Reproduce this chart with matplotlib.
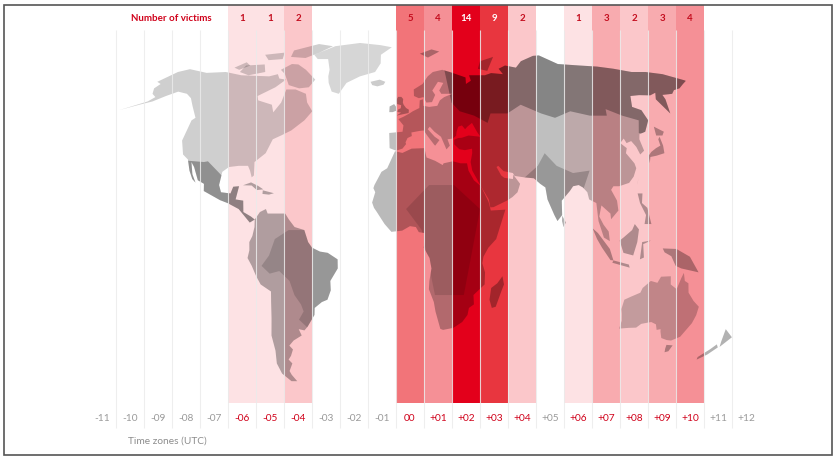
import numpy as np
import matplotlib.pyplot as plt
from matplotlib.colors import LinearSegmentedColormap
from matplotlib.patches import Polygon, Rectangle
import matplotlib.transforms as mtransforms

plt.rcParams['font.family'] = ['Lato', 'DejaVu Sans']

# data
zones = list(range(-11, 13))
victim_zones = [-6, -5, -4, 0, 1, 2, 3, 4, 6, 7, 8, 9, 10]
victims = [1, 1, 2, 5, 4, 14, 9, 2, 1, 3, 2, 3, 4]
title_text = 'Number of victims'
axis_title = 'Time zones (UTC)'

# rough land outlines (lon, lat)
north_america = [(-168, 65.5), (-162, 70), (-156, 71.3), (-141, 69.6), (-128, 70), (-115, 68.5), (-95, 68),
                 (-90, 69), (-87, 67), (-82, 66.5), (-86, 63), (-94, 59), (-92, 57), (-82, 55), (-79, 51.5),
                 (-77, 56), (-78, 62), (-72, 62), (-64, 60), (-61, 56), (-56, 52), (-59, 48), (-65, 44),
                 (-70, 42), (-74, 40.5), (-76, 35), (-81, 31.5), (-80, 26), (-81, 25.2), (-82.5, 28), (-84, 30),
                 (-89, 30), (-94, 29.5), (-97, 27.5), (-97.5, 22), (-96, 19), (-91, 18.5), (-90, 21.3),
                 (-87, 21.5), (-88, 16), (-84, 15.5), (-83.5, 11), (-79.5, 9.5), (-77.5, 8.5), (-80, 7.5),
                 (-86, 12), (-92, 14.5), (-96, 15.7), (-105, 19.5), (-105.5, 22.5), (-109, 24), (-112.5, 29.5),
                 (-114.7, 31.5), (-112.5, 26.5), (-110, 23), (-112, 24.5), (-114.5, 28), (-117, 32.5),
                 (-120.5, 34.5), (-124, 40), (-124.5, 48), (-123, 49), (-130, 54.5), (-135, 58), (-140, 60),
                 (-147, 61), (-152, 59), (-157, 56.5), (-163, 55), (-172, 52.5), (-160, 56.5), (-158, 58.5),
                 (-162, 60), (-165, 62.5), (-164, 64.5)]
mexico_region = [(-125, 32.5), (-108, 31.5), (-106, 31.8), (-97, 26), (-88, 26), (-75, 5), (-125, 5)]
arctic_islands = [
    [(-80, 73.5), (-72, 71), (-62, 66.5), (-64, 63), (-70, 62.5), (-78, 64), (-85, 69), (-90, 71), (-85, 73.7)],
    [(-92, 80), (-75, 83), (-62, 82), (-70, 79), (-78, 76.5), (-90, 77)],
    [(-118, 73), (-105, 73.5), (-100, 70), (-110, 68.5), (-118, 70)],
    [(-125, 72), (-120, 74.5), (-115, 73), (-120, 71)],
    [(-112, 78), (-98, 79), (-95, 76), (-105, 75.5)],
]
greenland = [(-73, 78), (-60, 82), (-40, 83.5), (-22, 82.5), (-12, 81.5), (-20, 78), (-19, 74), (-22, 70),
             (-32, 68), (-40, 65), (-43, 60), (-48, 61), (-52, 65), (-54, 68), (-55, 71), (-60, 76), (-68, 76)]
iceland = [(-24, 65.5), (-18, 66.5), (-14, 65.5), (-15, 64.2), (-19, 63.4), (-22.5, 64)]
caribbean = [
    [(-85, 21.9), (-81, 23.1), (-77, 21.6), (-74.2, 20.2), (-77.5, 19.9), (-80.5, 21.8)],
    [(-74.4, 19.8), (-68.5, 18.6), (-71, 18), (-74.4, 18.3)],
]
south_america = [(-77.5, 8.5), (-75, 11), (-72, 12), (-71, 10.5), (-68, 10.5), (-62, 10.5), (-60, 8.5),
                 (-57, 6), (-52, 5), (-50, 1), (-48, -1), (-44, -2.5), (-40, -3), (-35, -5.5), (-35, -9),
                 (-39, -14), (-39, -18), (-41, -22), (-44, -23), (-48, -25.5), (-48.5, -28.5), (-53, -33.5),
                 (-55, -35), (-58, -34.5), (-57, -37), (-62, -39), (-65, -41), (-63.5, -42.5), (-65.5, -45),
                 (-67.5, -46.5), (-66, -48), (-69, -51), (-68.5, -52.5), (-66.5, -55), (-70, -55), (-74, -52),
                 (-75, -48), (-73.5, -43), (-73.5, -37), (-71.5, -30), (-70.5, -23), (-70, -18.5), (-75, -15.5),
                 (-77, -12), (-79, -8), (-81, -5), (-80, -2), (-80, 1), (-78.5, 3), (-77.5, 6)]
brazil_region = [(-74, -8), (-70, -11), (-65, -10), (-60, -14), (-58, -20), (-55, -24), (-54, -27), (-57, -30.5),
                 (-53, -34), (-30, -30), (-30, 5), (-50, 5), (-60, 5), (-67, 2), (-70, -4)]
africa = [(-6, 35.8), (-10, 29), (-13, 27.5), (-16.5, 22), (-17, 20.7), (-16, 19), (-17.5, 14.7), (-16.5, 12.5),
          (-15, 11), (-13, 9), (-11, 7), (-7.5, 4.4), (-2, 4.8), (2, 6.3), (5, 6), (6.5, 4.3), (9.5, 4), (9.5, 1),
          (9, -1), (12, -5), (13, -9), (12, -14), (11.8, -17.5), (14.5, -23), (15.5, -27), (18.5, -34.4),
          (20, -34.8), (25.5, -34), (30, -31.5), (32.5, -28.5), (33, -25.5), (35.5, -24), (35, -20),
          (40.5, -15.5), (40.5, -10.5), (39, -7), (39.5, -4.5), (42, -1), (46, 2), (51, 11.8), (43.5, 11.5),
          (42.5, 15), (39, 21.5), (35.5, 24), (33, 28), (32.5, 31), (29, 31), (25, 31.8), (20, 31),
          (19.5, 30.3), (15.5, 32), (11, 33.3), (10, 37), (3, 36.8), (-2, 35.1)]
africa_central = [(12, 22), (25, 22), (38, 12), (30, -20), (15, -20), (8, 5), (0, 12)]
madagascar = [(49.5, -12), (50.5, -15.5), (49.5, -18), (47, -25), (45, -25.5), (43.5, -22), (44, -17), (47, -15)]
eurasia = [(-5.5, 36), (-9, 37), (-9.5, 43), (-2, 43.5), (-1.5, 46), (-4.5, 48.5), (-1.5, 49.5), (2, 51), (4, 52),
           (8, 53.5), (8.5, 57), (10.5, 57.5), (10.5, 54.5), (14, 54), (19, 54.5), (21, 57), (24, 58.5),
           (29.5, 60), (22.5, 60), (21.5, 61.5), (25, 65), (21.5, 65.5), (17, 61.5), (18.5, 59.5), (16, 56.2),
           (12.5, 56), (11, 58.5), (8, 58), (5, 59), (5, 62), (11, 64.5), (15, 68), (19, 70), (26, 71),
           (31, 70), (41, 67.5), (40, 64.5), (44, 66), (44, 68.5), (55, 68.5), (60, 69.5), (68, 69), (67, 71.5),
           (73, 73), (80, 72), (87, 75), (100, 77.5), (105, 77.7), (113, 73.7), (128, 73), (140, 72.5),
           (150, 71.5), (160, 70), (170, 70), (180, 69), (190, 66), (185, 64.5), (179, 62.5), (174, 61.7),
           (170, 60), (163, 59.5), (162, 57.5), (156.5, 51), (156, 57.5), (160, 60.5), (155, 59.3), (148, 59.4),
           (142, 59), (137, 54), (141, 52.5), (140.5, 48), (135, 43.5), (131, 42.5), (129.5, 40.5),
           (129.4, 36), (126.5, 34.5), (126, 37.5), (124.5, 39.8), (121.5, 39), (121, 40.8), (118, 39),
           (120.5, 37), (119, 35), (121.8, 31), (122, 29), (119.5, 25.5), (116.5, 22.9), (111, 21.5),
           (108, 21.5), (106.5, 20), (108.8, 15.5), (109, 11.5), (105, 8.6), (104.8, 10.5), (100.5, 13.5),
           (99, 9.5), (101, 6.8), (103.5, 4.5), (104, 1.3), (101, 2.5), (98.5, 8), (98, 14.5), (94.5, 16),
           (94, 19), (92, 21), (90, 22), (87, 21.5), (85, 19.5), (80.3, 15.5), (80, 10), (77.5, 8), (76, 10),
           (73, 16), (72.5, 21), (70, 22.5), (67, 24.8), (62, 25.2), (57, 25.8), (56.3, 27), (51.5, 27.8),
           (49, 30), (48, 29.5), (50, 26), (51.5, 25), (56, 24.5), (56.4, 26.3), (59.5, 22.5), (57.8, 19),
           (55, 17), (52, 15.5), (45, 12.8), (43.3, 12.7), (42.7, 16), (39, 21.5), (35, 28), (34.5, 31.5),
           (35.8, 35), (36, 36.8), (32, 36.2), (29, 36.6), (26.5, 38.5), (26.7, 40.3), (29, 41), (31, 41.1),
           (35, 42), (41.5, 41.5), (40, 43.5), (38, 47), (35, 45.5), (33.5, 44.5), (32, 46), (29.8, 45.5),
           (28.5, 43.5), (28, 41.9), (26, 40.8), (23, 40.5), (24, 38), (22, 36.5), (21, 38.5), (19.5, 41.5),
           (16, 43.5), (13.5, 45.5), (12.3, 44.5), (16, 41.5), (18.5, 40.2), (16, 38), (15.6, 38.2), (12, 41.8),
           (10, 44), (7.5, 43.8), (3, 43.2), (3.2, 41.8), (0.8, 41), (-0.3, 39.3), (0, 38.6), (-2, 36.8)]
russia_region = [(28, 90), (28, 56), (32, 52), (40, 50), (47, 47), (50, 51), (60, 51), (70, 55), (80, 51),
                 (87, 49), (98, 52), (108, 50), (118, 50), (120, 53), (127, 50), (135, 48), (131, 43),
                 (150, 40), (200, 40), (200, 90)]
india_region = [(62, 25), (70, 30), (75, 35), (80, 30), (88, 27), (97, 28), (92, 20), (80, 5), (65, 20)]
islands = [
    [(-5.7, 50), (1.5, 51.2), (1.7, 52.7), (0, 53.5), (-1.5, 55), (-2, 56), (-1.8, 57.6), (-3, 58.6), (-5, 58.6),
     (-6.2, 57), (-5.5, 55.3), (-3, 54.8), (-3.2, 53.4), (-4.8, 52.8), (-5.2, 51.7), (-3, 51.4)],
    [(-6, 52.2), (-6, 54), (-7.3, 55.3), (-10, 54.2), (-10, 51.6), (-8, 51.6)],
    [(130, 31), (131.5, 33.5), (135, 34), (139.8, 35), (141, 38), (141.5, 41.5), (140, 40.5), (139.5, 38),
     (136.5, 37), (133, 35.5), (130.8, 34)],
    [(140, 42), (141.5, 45.5), (145.5, 43.5), (143.5, 42)],
    [(109, 1.5), (111, -3), (116, -4), (118, 1), (119, 5.2), (117, 7), (115.5, 5), (111, 2.5)],
    [(95.3, 5.6), (98, 4), (104, -1.5), (106, -5.9), (104.5, -5.8), (100, -1), (97.5, 2)],
    [(105.5, -6.8), (114.5, -8.7), (114, -7.5), (106, -5.9)],
    [(119.5, -5.5), (120.5, 1), (125, 1.5), (121, 0.3), (121.5, -4.8)],
    [(131, -1.3), (138, -1.5), (145, -4.5), (150, -10.5), (147, -10), (141, -9), (138, -8), (135.5, -4.3),
     (132, -2.8)],
    [(120, 18.5), (122.5, 18.5), (121.5, 14.5), (124, 12.5), (125.5, 7), (122, 7), (123, 10), (120.5, 14.5)],
    [(80, 9.8), (81.8, 7.5), (80.5, 6), (79.8, 8)],
    [(120.5, 22), (122, 25.2), (121, 23)],
    [(52, 71.5), (56, 75), (68, 77), (58, 70.5)],
    [(11, 78.5), (21, 80.5), (27, 79.5), (17, 76.7)],
    [(144.7, -40.7), (148.3, -40.9), (147.8, -43.2), (146, -43.6), (145.2, -42.2)],
    [(172.7, -34.5), (178.5, -37.7), (175, -41.5), (174, -39.5)],
    [(172.5, -40.5), (174.2, -41.7), (171, -44.5), (167, -46.5), (166.5, -45.5), (170.5, -42.5)],
]
australia = [(113.2, -26), (113.8, -22), (117, -20.7), (121.5, -19), (122.3, -17), (126, -14), (129.5, -14.8),
             (131, -12.2), (136, -12), (136.5, -15.5), (140, -17.5), (141.5, -12.8), (142.5, -10.7),
             (143.5, -14), (145.5, -15), (146.5, -19), (150, -22.5), (153.5, -25), (153.6, -28.6), (153, -32),
             (150, -37.5), (146, -39), (143.5, -38.8), (140, -38), (138, -35.5), (137.5, -34.5), (135.5, -34.8),
             (134, -32.5), (131, -31.5), (126, -32.3), (124, -33.9), (120, -34), (115, -34.3), (115, -31),
             (114, -28)]

# Robinson-like width factor and a stretched latitude scale
rob_lat = np.arange(0, 95, 5)
rob_x = np.array([1, .9986, .9954, .99, .9822, .973, .96, .9427, .9216, .8962, .8679, .835, .7986,
                  .7597, .7186, .6732, .6213, .5722, .5322])
lat_tab = np.array([-90, -60, -34, -12, 0, 12, 30, 49, 71, 90])
y_tab = np.array([-95, -62, -34.5, -13, 0, 15, 33, 53, 73, 90])


def proj(pts):
    pts = np.array(pts, dtype=float)
    lon, lat = pts[:, 0], pts[:, 1]
    x = -0.14 + 0.07 * lon * np.interp(np.abs(lat), rob_lat, rob_x)
    y = np.interp(lat, lat_tab, y_tab)
    return np.column_stack([x, y])


cmap = LinearSegmentedColormap.from_list('victims', [
    (0 / 13, '#fde2e4'), (1 / 13, '#fbc6c9'), (2 / 13, '#f8abaf'), (3 / 13, '#f59096'),
    (4 / 13, '#f27378'), (8 / 13, '#e8363f'), (13 / 13, '#e3001b')])

fig = plt.figure(figsize=(8.4, 4.62), dpi=100)
ax = fig.add_axes([88 / 840, 1 - 403 / 462, 672 / 840, 398 / 462])
ymin, ymax = -65.8, 100
ax.set_xlim(-11.5, 12.5)
ax.set_ylim(ymin, ymax)
ax.axis('off')

ax.bar(victim_zones, ymax - ymin, bottom=ymin, width=1,
       color=[cmap((v - 1) / 13) for v in victims], zorder=1)


def land(pts, alpha, clip=None):
    p = Polygon(proj(pts), closed=True, facecolor='black', alpha=alpha, lw=0, zorder=2)
    ax.add_patch(p)
    if clip is not None:
        p.set_clip_path(clip)
    return p


na = land(north_america, 0.19)
land(mexico_region, 0.3, na)
for isl in arctic_islands:
    land(isl, 0.19)
land(greenland, 0.16)
land(iceland, 0.2)
for isl in caribbean:
    land(isl, 0.3)
sa = land(south_america, 0.3)
land(brazil_region, 0.15, sa)
af = land(africa, 0.27)
land(africa_central, 0.12, af)
land(madagascar, 0.3)
eu = land(eurasia, 0.25)
land(russia_region, 0.3, eu)
land(india_region, 0.2, eu)
for isl in islands:
    land(isl, 0.3)
land(australia, 0.22)

# column separators
blend = mtransforms.blended_transform_factory(ax.transData, ax.transAxes)
ax.vlines([z + 0.5 for z in zones[:-1]], -0.063, 0.937, transform=blend,
          colors='#ebebeb', lw=0.8, alpha=0.85, zorder=3, clip_on=False)

# counts on top
for z, v in zip(victim_zones, victims):
    ax.text(z, 0.967, str(v), transform=blend, ha='center', va='center', fontsize=7,
            fontweight='bold', color='white' if v >= 9 else '#c40d1e', zorder=4)
ax.text(-7.07, 0.967, title_text, transform=blend, ha='right', va='center', fontsize=7,
        fontweight='bold', color='#d0021b', zorder=4)

# zone labels
for z in zones:
    lab = '00' if z == 0 else f'{z:+03d}'
    ax.text(z, -0.038, lab, transform=blend, ha='center', va='center', fontsize=7.3,
            color='#d0021b' if z in victim_zones else '#9a9a9a', clip_on=False)

fig.text(128 / 840, 1 - 441 / 462, axis_title, ha='left', va='center', fontsize=7.3, color='#8c8c8c')

fig.patches.append(Rectangle((4 / 840, 1 - 455 / 462), 828 / 840, 450 / 462, transform=fig.transFigure,
                             fill=False, edgecolor='#555555', lw=1.2))

fig.savefig('out.png', dpi=100)
